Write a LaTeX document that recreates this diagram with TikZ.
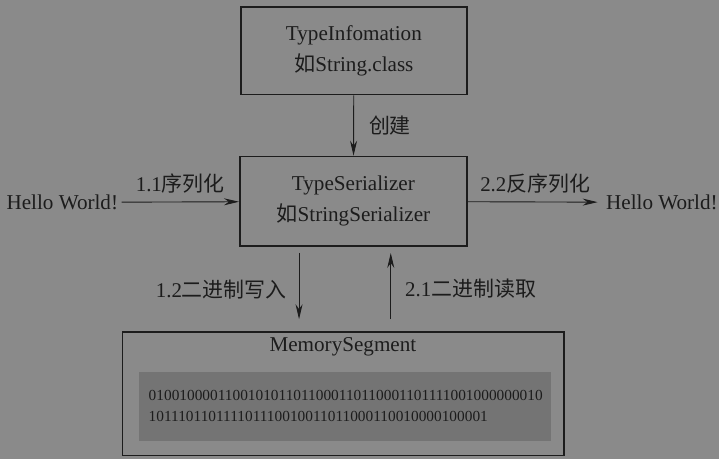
\documentclass[tikz,border=0pt]{standalone}
\usepackage{fontspec}
\setmainfont{Liberation Serif}
\newfontfamily\cjk{Noto Sans CJK SC}
\usetikzlibrary{arrows.meta,positioning}

\definecolor{paper}{RGB}{138,138,138}
\definecolor{ink}{RGB}{28,28,28}
\definecolor{cell}{RGB}{116,116,116}

\begin{document}
\begin{tikzpicture}[x=1pt,y=-1pt]
				\tikzstyle{Box}		= [draw=ink, line width=1.6pt, rectangle, inner sep=0pt]
				\tikzstyle{Txt}		= [text=ink, font=\fontsize{21.2}{31}\selectfont, align=center]
				\tikzstyle{Tag}		= [text=ink, font=\fontsize{21}{24}\selectfont, inner sep=2pt]
				\tikzstyle{Bits}	= [text=ink, font=\fontsize{15.4}{21}\selectfont, align=left, inner sep=0pt]
				\tikzstyle{Flow}	= [draw=ink, line width=0.9pt, -{Stealth[length=15pt,width=7pt]}]

				\fill[paper] (0,0) rectangle (721,460);

				\node (tinfo) at (355, 51) [Box][Txt, minimum width=227pt, minimum height=88pt] {TypeInfomation\\{\cjk 如}String.class};
				\node (tser) at (354.5, 202) [Box][Txt, minimum width=228pt, minimum height=90pt] {TypeSerializer\\{\cjk 如}StringSerializer};

				\node (mem) at (344.5, 395) [Box, minimum width=443pt, minimum height=124pt] {};
				\node (cells) at (346, 407.5) [fill=cell, minimum width=414pt, minimum height=69pt] {};
				\node (memname) at (344, 348) [Txt] {MemorySegment};
				\node (bits) at (149, 407.5) [Bits, anchor=west] {0100100001100101011011000110110001101111001000000010\\101110110111101110010011011000110010000100001};

				\node (hwin) at (62.5, 203) [Txt] {Hello World!};
				\node (hwout) at (664, 203) [Txt] {Hello World!};

				\coordinate (wr) at (300, 0);
				\coordinate (rd) at (392, 0);

				\draw [Flow] (tinfo) to node [Tag, right=13pt] (create) {\cjk 创建} (tser);
				\draw [Flow] (hwin) to node [Tag, above=6pt] (ser) {1.1{\cjk 序列化}} (tser);
				\draw [Flow, shorten >=5pt] (tser) to node [Tag, above=6pt] (deser) {2.2{\cjk 反序列化}} (hwout);
				\draw [Flow, shorten <=6pt, shorten >=12pt] (tser.south -| wr) to node [Tag, left=10pt] (write) {1.2{\cjk 二进制写入}} (mem.north -| wr);
				\draw [Flow, shorten <=12pt, shorten >=6pt] (mem.north -| rd) to node [Tag, right=12pt] (read) {2.1{\cjk 二进制读取}} (tser.south -| rd);
\end{tikzpicture}
\end{document}
